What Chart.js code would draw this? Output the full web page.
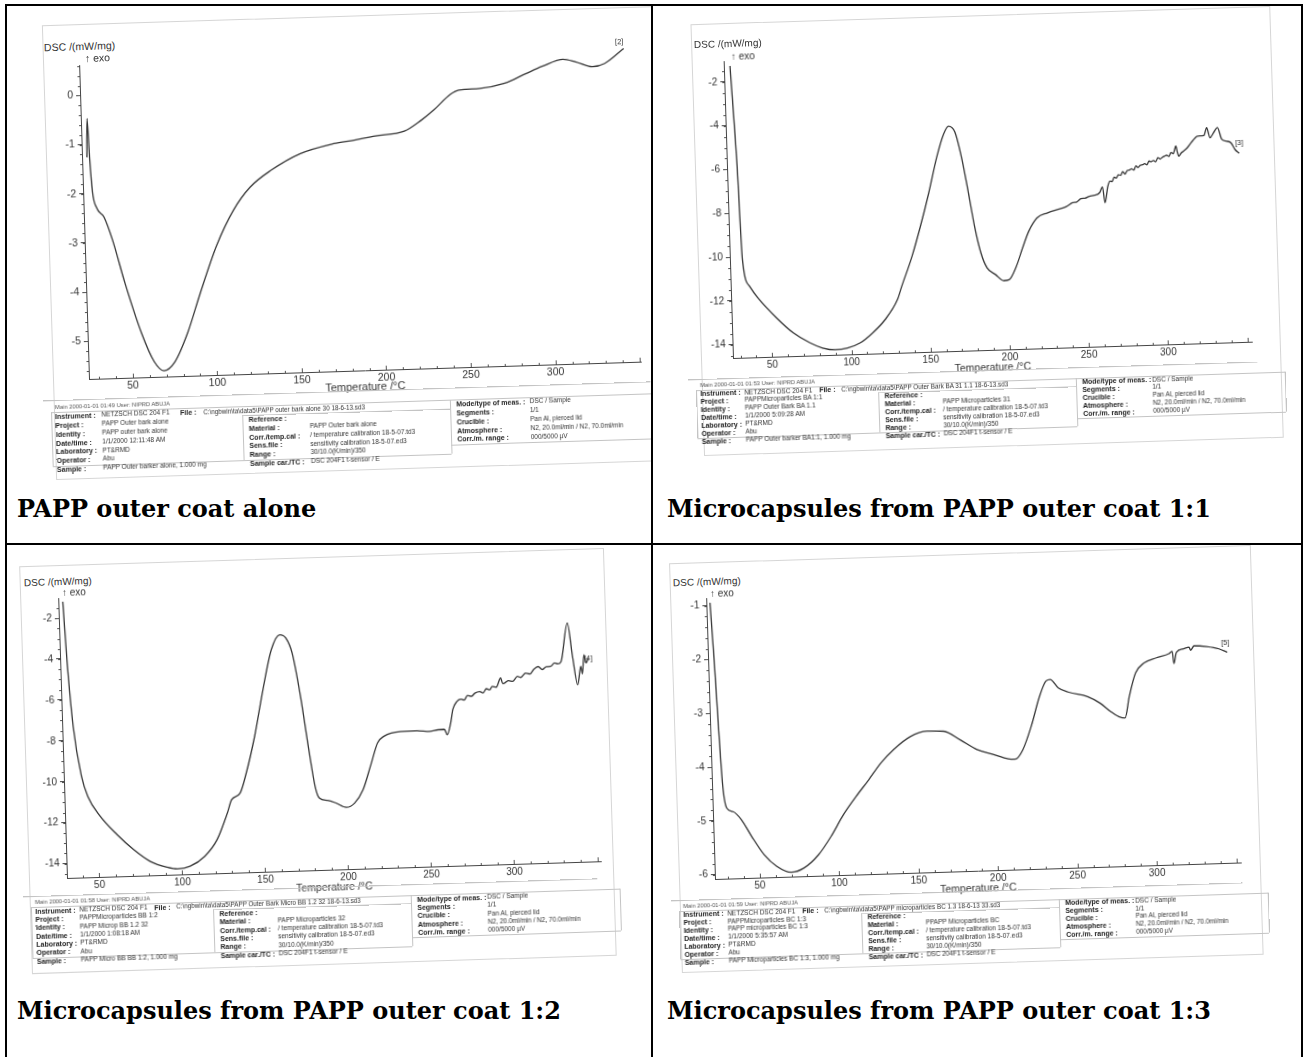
<!DOCTYPE html>
<html>
<head>
<meta charset="utf-8">
<title>DSC thermograms</title>
<script src="https://cdn.jsdelivr.net/npm/chart.js@4.4.0/dist/chart.umd.min.js"></script>
<style>
  html, body { margin: 0; padding: 0; background: #fff; }
  body { width: 1305px; height: 1057px; position: relative; overflow: hidden; font-family: "Liberation Sans", Arial, sans-serif; }
  .rule { position: absolute; background: #000; }
  .cell { position: absolute; overflow: hidden; }
  .scan { position: absolute; left: 0; top: 0; width: 100%; height: 100%; }
  .scan canvas { position: absolute; }
  .t { position: absolute; white-space: nowrap; color: #333; line-height: 1; }
  .edge { position: absolute; border: 1px solid #d6d6d6; box-sizing: border-box; }
  .hl { position: absolute; height: 0; border-top: 1px solid #c4c4c4; }
  .vl { position: absolute; width: 0; border-left: 1px solid #c4c4c4; }
  .caption { position: absolute; font-family: "DejaVu Serif", serif; font-weight: bold; font-size: 24px; line-height: 24px; color: #000; white-space: nowrap; }
</style>
</head>
<body>
<div class="rule" style="left:5px;top:4px;width:1298px;height:2px"></div>
<div class="rule" style="left:5px;top:4px;width:2px;height:1053px"></div>
<div class="rule" style="left:651px;top:4px;width:2px;height:1053px"></div>
<div class="rule" style="left:1301px;top:4px;width:2px;height:1053px"></div>
<div class="rule" style="left:5px;top:543px;width:1298px;height:2px"></div>

<div class="caption" style="left:17px;top:497px">PAPP outer coat alone</div>
<div class="caption" style="left:667px;top:497px">Microcapsules from PAPP outer coat 1:1</div>
<div class="caption" style="left:17px;top:999px">Microcapsules from PAPP outer coat 1:2</div>
<div class="caption" style="left:667px;top:999px">Microcapsules from PAPP outer coat 1:3</div>

<script>
// tick labels
const xTicks = [50, 100, 150, 200, 250, 300];
const yTicks1 = [0, -1, -2, -3, -4, -5];
const yTicks2 = [-2, -4, -6, -8, -10, -12, -14];
const yTicks3 = [-2, -4, -6, -8, -10, -12, -14];
const yTicks4 = [-1, -2, -3, -4, -5, -6];

// PAPP outer coat alone
const temp1 = [
  27.0, 27.8, 28.6, 29.6, 31.9, 36.0, 40.6, 47.2, 56.1, 63.0,
  68.5, 75.3, 83.2, 91.4, 102.1, 112.6, 122.9, 135.6, 153.2, 173.0,
  185.3, 197.8, 215.1, 225.2, 232.8, 243.0, 248.0, 260.4, 275.3, 287.8,
  297.8, 310.2, 317.6, 327.4, 334.8, 346.2
];
const dsc1 = [
  -1.26, -0.47, -1.30, -1.95, -2.30, -2.49, -2.96, -3.85, -4.88, -5.46,
  -5.65, -5.47, -4.90, -4.10, -3.13, -2.43, -1.97, -1.64, -1.32, -1.14,
  -1.08, -1.01, -0.93, -0.72, -0.52, -0.21, -0.13, -0.11, -0.02, 0.16,
  0.30, 0.43, 0.37, 0.26, 0.32, 0.61
];

// microcapsules 1:1
const temp2 = [
  29.1, 31.6, 33.1, 37.1, 42.1, 53.6, 63.8, 74.1, 81.9, 89.7,
  97.6, 105.6, 113.7, 121.9, 130.1, 133.1, 140.2, 146.1, 152.0, 157.9,
  162.4, 165.7, 169.7, 173.6, 177.0, 180.2, 183.7, 187.3, 192.5, 197.6,
  201.0, 205.8, 210.1, 214.3, 219.8, 226.5, 234.5, 238.5, 242.5, 245.2,
  247.9, 250.5, 253.2, 256.5, 259.8, 261.7, 263.0, 265.1, 266.5, 267.9,
  269.3, 270.6, 272.0, 273.4, 274.8, 276.2, 277.6, 279.0, 280.4, 281.8,
  283.2, 284.6, 286.0, 287.4, 288.8, 290.2, 291.6, 293.0, 294.4, 295.8,
  297.2, 298.6, 300.0, 301.4, 302.8, 304.2, 305.6, 307.0, 308.0, 308.8,
  309.6, 310.4, 312.0, 313.5, 315.9, 319.0, 322.7, 326.7, 328.6, 330.5,
  333.0, 335.4, 337.9, 340.5, 343.6, 346.0, 348.6
];
const dsc2 = [
  -1.28, -5.86, -10.13, -11.36, -11.90, -12.85, -13.55, -14.03, -14.28, -14.38,
  -14.32, -14.11, -13.67, -13.08, -12.18, -11.58, -10.22, -8.86, -7.35, -5.69,
  -4.71, -4.34, -4.62, -5.88, -7.41, -8.94, -10.17, -10.86, -11.18, -11.47,
  -11.43, -10.83, -10.00, -9.25, -8.65, -8.44, -8.27, -8.18, -8.01, -7.98,
  -7.84, -7.82, -7.74, -7.70, -7.59, -7.33, -8.06, -7.31, -7.08, -7.10,
  -6.90, -6.95, -6.80, -6.83, -6.66, -6.78, -6.62, -6.60, -6.55, -6.61,
  -6.42, -6.50, -6.40, -6.38, -6.33, -6.39, -6.22, -6.25, -6.20, -6.26,
  -6.08, -6.14, -6.07, -6.02, -5.98, -6.04, -5.86, -5.92, -5.72, -5.57,
  -5.85, -6.04, -5.90, -5.82, -5.67, -5.40, -5.15, -5.13, -4.78, -5.24,
  -5.00, -4.79, -5.33, -5.42, -5.50, -5.81, -5.99
];

// microcapsules 1:2
const temp3 = [
  33.2, 34.6, 37.1, 41.2, 44.6, 51.7, 61.5, 71.2, 81.0, 90.9,
  97.2, 104.8, 113.8, 121.6, 128.3, 131.1, 136.3, 140.4, 146.1, 152.0,
  157.8, 163.1, 166.8, 170.3, 174.5, 178.5, 181.6, 183.9, 188.8, 193.8,
  200.0, 205.1, 210.4, 215.9, 220.0, 223.9, 234.1, 244.1, 251.6, 256.7,
  260.5, 262.1, 264.4, 266.0, 268.5, 271.0, 273.0, 275.0, 277.4, 279.5,
  282.5, 284.5, 286.5, 288.5, 290.1, 292.5, 295.3, 296.5, 297.7, 300.0,
  302.5, 305.4, 307.5, 310.4, 313.0, 315.5, 318.1, 320.5, 323.0, 325.6,
  328.0, 330.0, 332.0, 336.5, 339.0, 341.6, 343.8, 344.6, 345.9, 347.1,
  348.4
];
const dsc3 = [
  -1.20, -4.05, -7.31, -9.77, -10.75, -11.74, -12.66, -13.42, -14.02, -14.33,
  -14.43, -14.32, -13.86, -13.06, -11.77, -11.13, -10.82, -9.85, -8.08, -5.81,
  -3.87, -3.15, -3.32, -4.07, -6.19, -8.81, -10.61, -11.18, -11.31, -11.45,
  -11.68, -11.48, -10.84, -9.55, -8.58, -8.27, -8.06, -8.05, -8.10, -8.03,
  -8.02, -8.29, -7.72, -7.05, -6.68, -6.57, -6.62, -6.40, -6.45, -6.30,
  -6.23, -6.30, -6.10, -6.16, -6.00, -6.04, -5.60, -5.88, -5.85, -5.74,
  -5.78, -5.55, -5.60, -5.40, -5.45, -5.22, -5.10, -5.25, -5.12, -5.11,
  -4.95, -5.00, -4.89, -3.02, -4.66, -6.05, -5.16, -5.52, -4.59, -5.00,
  -4.76
];

// microcapsules 1:3
const temp4 = [
  24.1, 25.6, 27.0, 28.4, 30.6, 34.5, 39.5, 45.7, 53.3, 60.9,
  70.0, 77.9, 87.4, 95.6, 103.9, 112.2, 120.4, 128.5, 136.7, 147.4,
  158.0, 168.5, 178.8, 189.2, 199.6, 208.6, 213.1, 218.0, 223.7, 229.5,
  233.8, 236.5, 241.5, 248.1, 259.7, 267.5, 273.9, 279.0, 282.9, 286.0,
  290.4, 295.9, 303.8, 311.8, 313.9, 314.7, 316.5, 321.0, 324.5, 325.5,
  327.7, 335.5, 343.3, 348.5
];
const dsc4 = [
  -0.95, -2.01, -3.25, -4.30, -4.77, -4.84, -4.99, -5.31, -5.66, -5.88,
  -6.00, -5.93, -5.69, -5.36, -4.96, -4.63, -4.33, -4.02, -3.78, -3.55,
  -3.46, -3.47, -3.64, -3.83, -3.93, -4.02, -4.03, -3.86, -3.43, -2.88,
  -2.60, -2.57, -2.73, -2.82, -2.91, -3.04, -3.20, -3.30, -3.33, -2.93,
  -2.50, -2.32, -2.23, -2.16, -2.12, -2.35, -2.14, -2.08, -2.05, -2.11,
  -2.03, -2.05, -2.10, -2.17
];

// instrument print-out under each plot
const col1Labels = ['Project :', 'Identity :', 'Date/time :', 'Laboratory :', 'Operator :', 'Sample :'];
const col2Labels = ['Reference :', 'Material :', 'Corr./temp.cal :', 'Sens.file :', 'Range :', 'Sample car./TC :'];
const col3Labels = ['Mode/type of meas. :', 'Segments :', 'Crucible :', 'Atmosphere :', 'Corr./m. range :'];
const col3Values = ['DSC / Sample', '1/1', 'Pan Al, pierced lid', 'N2, 20.0ml/min / N2, 70.0ml/min', '000/5000 \u00b5V'];
function col2Values(material) {
  return ['', material, '/ temperature calibration 18-5-07.td3', 'sensitivity calibration 18-5-07.ed3', '30/10.0(K/min)/350', 'DSC 204F1 t-sensor / E'];
}

const info1 = {
  main: 'Main   2000-01-01 01:49    User: NIPRD ABUJA',
  file: 'C:\\ngbwin\\ta\\data5\\PAPP outer bark alone 30 18-6-13.sd3',
  col1: ['PAPP Outer bark alone', 'PAPP outer bark alone', '1/1/2000 12:11:48 AM', 'PT&RMD', 'Abu', 'PAPP Outer barker  alone, 1.000 mg'],
  material: 'PAPP Outer bark alone'
};
const info2 = {
  main: 'Main   2000-01-01 01:53    User: NIPRD ABUJA',
  file: 'C:\\ngbwin\\ta\\data5\\PAPP Outer Bark BA 31 1.1 18-6-13.sd3',
  col1: ['PAPPMicroparticles BA 1:1', 'PAPP Outer Bark BA 1.1', '1/1/2000 5:09:28 AM', 'PT&RMD', 'Abu', 'PAPP Outer barker BA1:1, 1.000 mg'],
  material: 'PAPP Microparticles 31'
};
const info3 = {
  main: 'Main   2000-01-01 01:58    User: NIPRD ABUJA',
  file: 'C:\\ngbwin\\ta\\data5\\PAPP Outer Bark Micro BB 1.2 32 18-6-13.sd3',
  col1: ['PAPPMicroparticles BB 1:2', 'PAPP Microp BB 1.2 32', '1/1/2000 1:08:18 AM', 'PT&RMD', 'Abu', 'PAPP Micro BB BB 1:2, 1.000 mg'],
  material: 'PAPP Microparticles 32'
};
const info4 = {
  main: 'Main   2000-01-01 01:59    User: NIPRD ABUJA',
  file: 'C:\\ngbwin\\ta\\data5\\PAPP microparticles BC 1.3  18-6-13 33.sd3',
  col1: ['PAPPMicroparticles BC 1:3', 'PAPP microparticles BC 1:3', '1/1/2000 5:35:57 AM', 'PT&RMD', 'Abu', 'PAPP Microparticles BC 1:3, 1.000 mg'],
  material: 'PPAPP Microparticles BC'
};

Chart.defaults.font.family = "'Liberation Sans', Arial, sans-serif";
Chart.defaults.color = '#333';
Chart.defaults.animation = false;

// the scans are slightly tilted
const TILT = 1.8;
const SN = Math.sin(TILT * Math.PI / 180), CS = Math.cos(TILT * Math.PI / 180);
const YW = 40, XH = 30, PT = 10, PR = 6;

// small tick marks along both axes
const minorTicks = {
  id: 'minorTicks',
  afterDraw(chart, args, opts) {
    const {ctx, chartArea: a} = chart;
    const x = chart.scales.x, y = chart.scales.y;
    ctx.save();
    ctx.strokeStyle = '#555';
    ctx.lineWidth = 1;
    ctx.beginPath();
    for (let t = Math.ceil(x.min / 10) * 10; t <= x.max; t += 10) {
      const px = Math.round(x.getPixelForValue(t)) + 0.5;
      const len = t % 50 === 0 ? 4 : 2;
      ctx.moveTo(px, a.bottom);
      ctx.lineTo(px, a.bottom - len);
    }
    const n = Math.round((y.max - y.min) / opts.yStep);
    const first = Math.ceil(y.min / opts.yStep);
    for (let i = 0; i <= n; i++) {
      const v = (first + i) * opts.yStep;
      if (v > y.max) break;
      const py = Math.round(y.getPixelForValue(v)) + 0.5;
      ctx.moveTo(a.left, py);
      ctx.lineTo(a.left - 2, py);
    }
    ctx.stroke();
    ctx.restore();
  }
};

function makePanel(p, temps, vals, yTicks, info) {
  const cell = document.createElement('div');
  cell.className = 'cell';
  cell.style.left = p.cell[0] + 'px';
  cell.style.top = p.cell[1] + 'px';
  cell.style.width = p.cell[2] + 'px';
  cell.style.height = p.cell[3] + 'px';
  document.body.appendChild(cell);

  const ox = p.origin[0] - p.cell[0], oy = p.origin[1] - p.cell[1];
  const scan = document.createElement('div');
  scan.className = 'scan';
  scan.style.transformOrigin = ox + 'px ' + oy + 'px';
  scan.style.transform = 'rotate(-' + TILT + 'deg)';
  cell.appendChild(scan);

  // page point (as seen in the scan) -> unrotated local point
  const loc = (x, y) => {
    const dx = x - p.origin[0], dy = y - p.origin[1];
    return [ox + dx * CS - dy * SN, oy + dx * SN + dy * CS];
  };
  const text = (str, x, y, size, bold, color) => {
    const el = document.createElement('div');
    el.className = 't';
    el.textContent = str;
    el.style.left = x + 'px';
    el.style.top = (y - size / 2) + 'px';
    el.style.fontSize = size + 'px';
    if (bold) el.style.fontWeight = 'bold';
    if (color) el.style.color = color;
    scan.appendChild(el);
  };
  const box = (cls, x, y, w, h) => {
    const el = document.createElement('div');
    el.className = cls;
    el.style.left = x + 'px';
    el.style.top = y + 'px';
    if (w !== null) el.style.width = w + 'px';
    if (h !== null) el.style.height = h + 'px';
    scan.appendChild(el);
  };

  // paper edge
  let q = loc(p.page[0], p.page[1]);
  box('edge', q[0], q[1], p.page[2], p.page[3]);

  // the plot
  const cv = document.createElement('canvas');
  const W = YW + p.area[0] + PR, H = PT + p.area[1] + XH;
  cv.width = W;
  cv.height = H;
  cv.style.left = (ox - YW) + 'px';
  cv.style.top = (oy - p.area[1] - PT) + 'px';
  scan.appendChild(cv);

  new Chart(cv.getContext('2d'), {
    type: 'scatter',
    data: {
      datasets: [{
        data: temps.map((t, i) => ({x: t, y: vals[i]})),
        showLine: true,
        borderColor: '#363636',
        borderWidth: 1.3,
        pointRadius: 0,
        cubicInterpolationMode: 'monotone'
      }]
    },
    options: {
      responsive: false,
      events: [],
      layout: { padding: { top: PT, right: PR, left: 0, bottom: 0 } },
      plugins: {
        legend: { display: false },
        tooltip: { enabled: false },
        minorTicks: { yStep: p.yStep }
      },
      scales: {
        x: {
          type: 'linear',
          min: p.xRange[0],
          max: p.xRange[1],
          afterFit: s => { s.height = XH; },
          afterBuildTicks: s => { s.ticks = xTicks.map(v => ({value: v})); },
          grid: { display: false, drawTicks: false },
          border: { color: '#444', width: 1 },
          ticks: { color: '#333', font: { size: p.fs }, padding: 2, maxRotation: 0, autoSkip: false },
          title: { display: true, text: 'Temperature /\u00b0C', color: '#333', font: { size: p.fs + 0.5 }, padding: { top: 0, bottom: 6 } }
        },
        y: {
          min: p.yRange[0],
          max: p.yRange[1],
          afterFit: s => { s.width = YW; },
          afterBuildTicks: s => { s.ticks = yTicks.map(v => ({value: v})); },
          grid: { drawOnChartArea: false, drawTicks: true, tickLength: 4, color: '#444' },
          border: { color: '#444', width: 1 },
          ticks: { color: '#333', font: { size: p.fs }, padding: 3, autoSkip: false }
        }
      }
    },
    plugins: [minorTicks]
  });

  // axis caption and curve tag
  q = loc(p.dsc[0], p.dsc[1]);
  text('DSC /(mW/mg)', q[0], q[1], p.fs);
  q = loc(p.exo[0], p.exo[1]);
  text('\u2191 exo', q[0], q[1], p.fs);
  q = loc(p.tag[1], p.tag[2]);
  text(p.tag[0], q[0], q[1], 7.5);

  // print-out block
  const [bx, by] = loc(p.info[0], p.info[1]);
  const k = p.infoScale, sp = p.spacing;
  const c = { v1: 44 * k, file: 119 * k, path: 141 * k, c2: 184 * k, v2: 242 * k, c3: 382 * k, v3: 452 * k, end: 585 * k };
  const row = i => by + i * sp;
  box('hl', bx - 12, row(-0.9), p.page[2] - 10, null);
  box('hl', bx - 4, row(0.5), c.end + 4, null);
  box('hl', bx - 4, row(6.6), c.c3 - 2, null);
  box('hl', bx + c.c3 - 6, row(5.6), c.end - c.c3 + 6, null);
  box('hl', bx + c.c2 - 6, row(1.5), c.c3 - c.c2, null);
  box('vl', bx - 4, row(0.5), null, sp * 6.1);
  box('vl', bx + c.c2 - 6, row(1.5), null, sp * 5.1);
  box('vl', bx + c.c3 - 6, row(0.5), null, sp * 6.1);
  box('vl', bx + c.end, row(0.5), null, sp * 5.1);

  text(info.main, bx, row(0), 5.8, false, '#555');
  text('Instrument :', bx, row(1), 7, true, '#222');
  text('NETZSCH DSC 204 F1', bx + c.v1, row(1), 6.5);
  text('File :', bx + c.file, row(1), 7, true, '#222');
  text(info.file, bx + c.path, row(1), 6.3);
  col1Labels.forEach((lab, i) => {
    text(lab, bx, row(i + 2), 7, true, '#222');
    text(info.col1[i], bx + c.v1, row(i + 2), 6.5);
  });
  const v2 = col2Values(info.material);
  col2Labels.forEach((lab, i) => {
    text(lab, bx + c.c2, row(i + 2), 7, true, '#222');
    text(v2[i], bx + c.v2, row(i + 2), 6.5);
  });
  col3Labels.forEach((lab, i) => {
    text(lab, bx + c.c3, row(i + 1), 7, true, '#222');
    text(col3Values[i], bx + c.v3, row(i + 1), 6.5);
  });
}

makePanel({
  cell: [7, 6, 644, 537], origin: [89, 379], area: [552, 314],
  xRange: [24.1, 350.5], yRange: [-5.77, 0.62], yStep: 0.2, fs: 10.5,
  dsc: [44, 48], exo: [85, 58], tag: ['[2]', 615, 42],
  info: [55, 408], spacing: 8.8, infoScale: 1.05, page: [42, 25, 618, 455]
}, temp1, dsc1, yTicks1, info1);

makePanel({
  cell: [653, 6, 648, 537], origin: [733.3, 358.3], area: [519, 297],
  xRange: [25.2, 352.8], yRange: [-14.61, -1.05], yStep: 0.5, fs: 10,
  dsc: [694, 45], exo: [731, 57], tag: ['[3]', 1235, 143],
  info: [700, 386], spacing: 7.9, infoScale: 1, page: [690, 24, 580, 432]
}, temp2, dsc2, yTicks2, info2);

makePanel({
  cell: [7, 545, 644, 512], origin: [66.7, 878.3], area: [534, 280],
  xRange: [30.5, 352.1], yRange: [-14.70, -1.02], yStep: 0.5, fs: 10,
  dsc: [24, 583], exo: [62, 593], tag: ['[4]', 584, 658],
  info: [35, 903], spacing: 8.3, infoScale: 1, page: [19, 566, 585, 408]
}, temp3, dsc3, yTicks3, info3);

makePanel({
  cell: [653, 545, 648, 512], origin: [715.3, 879.3], area: [526, 281],
  xRange: [21.8, 352.8], yRange: [-6.08, -0.86], yStep: 0.2, fs: 10,
  dsc: [673, 583], exo: [710, 594], tag: ['[5]', 1221, 643],
  info: [683, 907], spacing: 7.9, infoScale: 1, page: [669, 563, 582, 410]
}, temp4, dsc4, yTicks4, info4);
</script>
</body>
</html>
